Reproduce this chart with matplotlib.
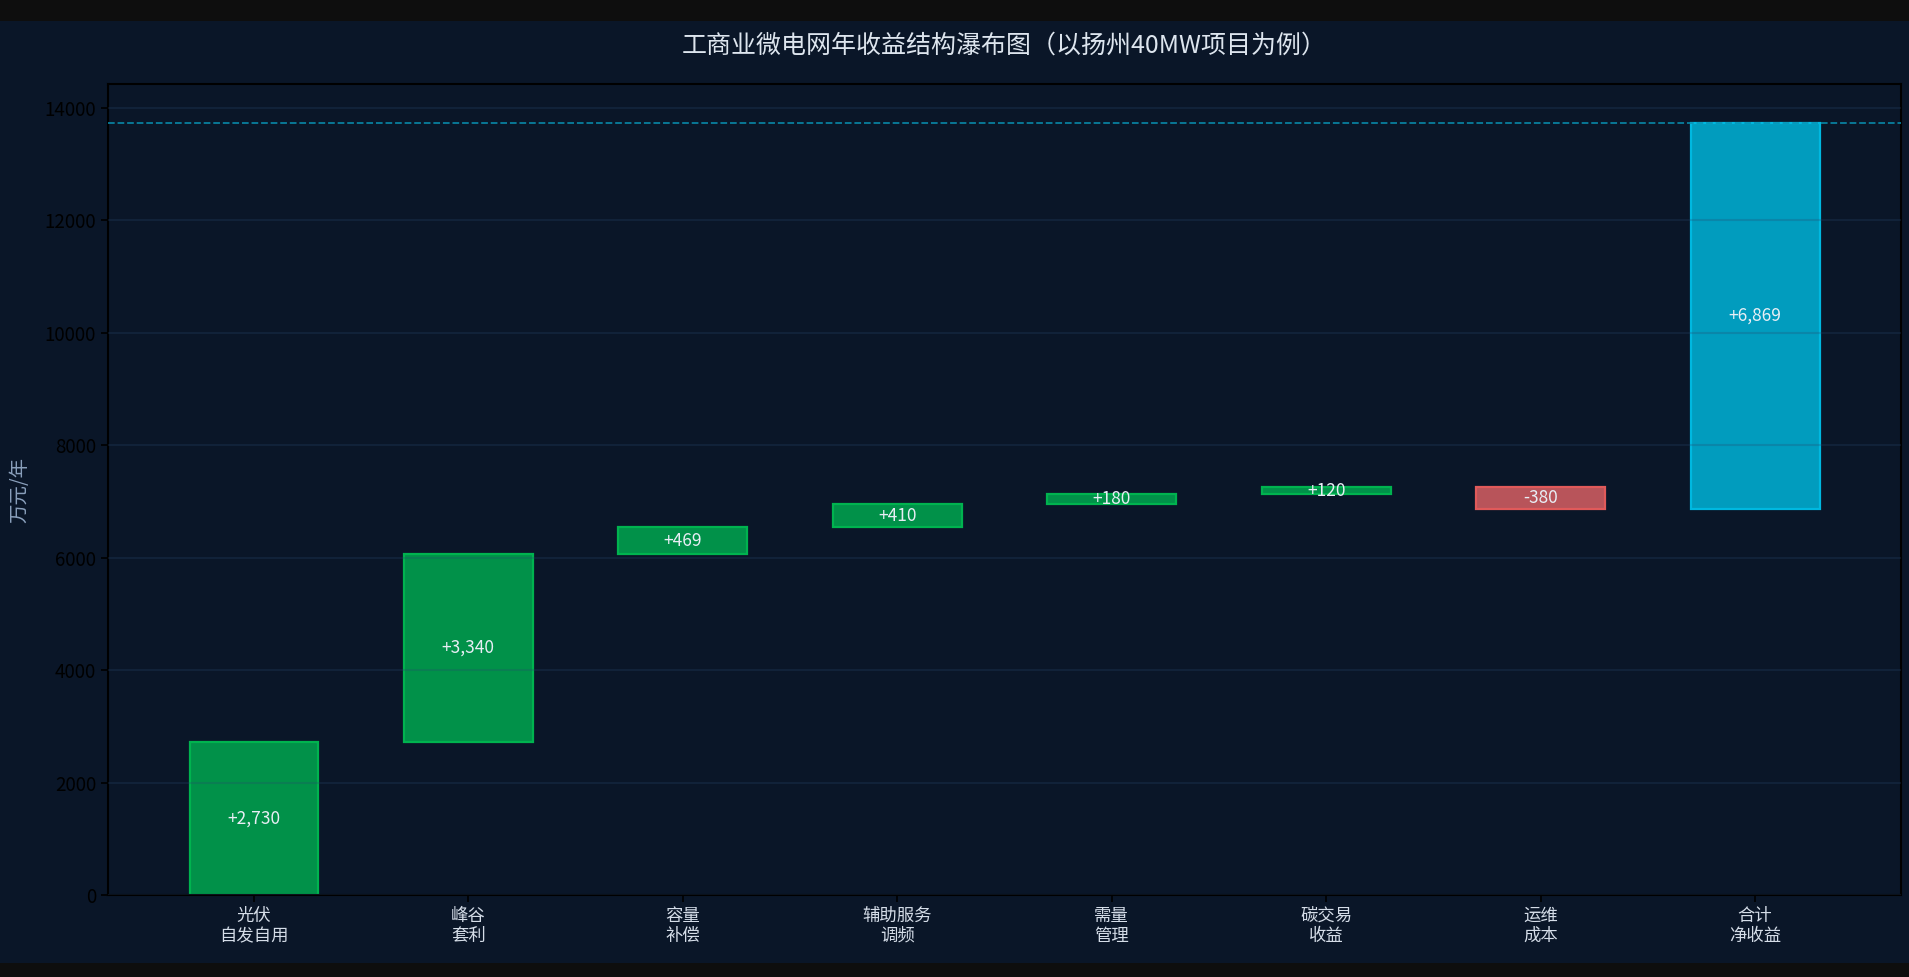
import matplotlib
matplotlib.use("Agg")
import matplotlib.pyplot as plt
from matplotlib.colors import to_rgba
from matplotlib.patches import Rectangle

plt.rcParams['font.family'] = ['Noto Sans CJK SC', 'DejaVu Sans']
plt.rcParams['axes.unicode_minus'] = False

# ---- data ----
title = "工商业微电网年收益结构瀑布图（以扬州40MW项目为例）"
ylabel = "万元/年"
categories = ['光伏\n自发自用', '峰谷\n套利', '容量\n补偿', '辅助服务\n调频',
              '需量\n管理', '碳交易\n收益', '运维\n成本', '合计\n净收益']
values = [2730, 3340, 469, 410, 180, 120, -380]
yticks = [0, 2000, 4000, 6000, 8000, 10000, 12000, 14000]

# ---- style ----
NAVY = '#0a1628'
STRIP = '#0e0e0e'
POS_FACE, POS_EDGE = '#00a850', '#00b34f'
NEG_FACE, NEG_EDGE = '#d86064', '#e05a5a'
TOT_FACE, TOT_EDGE = '#00b5da', '#00b8e0'
FACE_ALPHA = 0.85

W, H = 1909, 977
fig = plt.figure(figsize=(W / 100, H / 100), dpi=100)
fig.patch.set_facecolor(STRIP)
fig.add_artist(Rectangle((0, 14 / H), 1, (H - 21 - 14) / H, transform=fig.transFigure,
                         facecolor=NAVY, edgecolor='none', zorder=-5))

left, right, top, bottom = 108, 1901, 84, 895
ax = fig.add_axes([left / W, 1 - bottom / H, (right - left) / W, (bottom - top) / H])
ax.set_facecolor(NAVY)

# waterfall geometry
bottoms, heights, faces, edges, labels = [], [], [], [], []
cum = 0
for v in values:
    if v >= 0:
        bottoms.append(cum)
        heights.append(v)
        faces.append(to_rgba(POS_FACE, FACE_ALPHA))
        edges.append(POS_EDGE)
    else:
        bottoms.append(cum + v)
        heights.append(-v)
        faces.append(to_rgba(NEG_FACE, FACE_ALPHA))
        edges.append(NEG_EDGE)
    labels.append(f"{v:+,}")
    cum += v
total = sum(values)
bottoms.append(cum)
heights.append(total)
faces.append(to_rgba(TOT_FACE, FACE_ALPHA))
edges.append(TOT_EDGE)
labels.append(f"{total:+,}")

x = list(range(len(categories)))
ax.bar(x, heights, bottom=bottoms, width=0.6, color=faces, edgecolor=edges,
       linewidth=1.6, zorder=1)

for xi, b, h, lab in zip(x, bottoms, heights, labels):
    ax.text(xi, b + h / 2, lab, ha='center', va='center', color='#e8eef5',
            fontsize=12.5, zorder=4)

top_val = bottoms[-1] + heights[-1]
ax.axhline(top_val, color='#0891b2', linestyle='--', linewidth=1.3, alpha=0.85, zorder=3)

ax.set_ylim(0, top_val * 1.05)
ax.set_yticks(yticks)
ax.set_xticks(x)
ax.set_xticklabels(categories, color='#d5dde8', fontsize=12.5, linespacing=1.15)
ax.tick_params(axis='y', colors='black', labelsize=13.5, length=5, width=1.2)
ax.tick_params(axis='x', colors='black', labelcolor='#d5dde8', length=5, width=1.2)

ax.set_axisbelow(False)
ax.yaxis.grid(True, color='#28466e', alpha=0.25, linewidth=1.5, zorder=2)
ax.xaxis.grid(False)
for s in ax.spines.values():
    s.set_color('black')
    s.set_linewidth(1.5)

fig.text(19.5 / W, 1 - 490 / H, ylabel, rotation=90, ha='center', va='center',
         color='#8aa0bc', fontsize=14)
fig.text((left + right) / 2 / W, 1 - 46 / H, title, ha='center', va='center',
         color='#dde5ee', fontsize=18)

fig.savefig('out.png', dpi=100, facecolor=fig.get_facecolor())
